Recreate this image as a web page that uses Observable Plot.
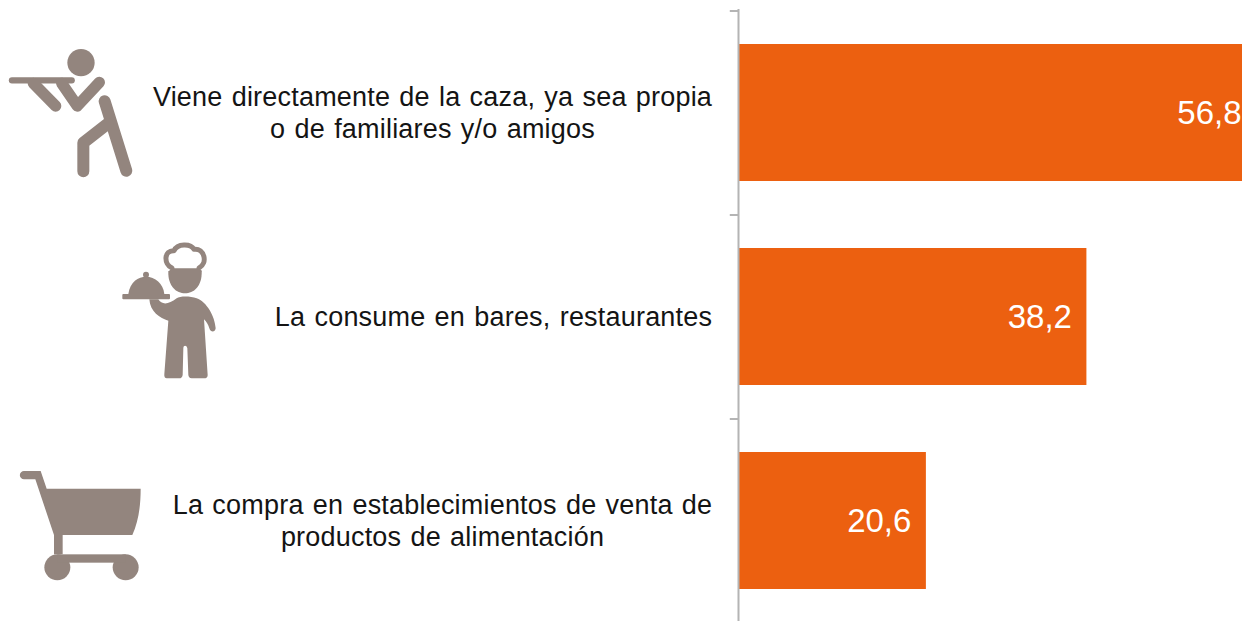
<!DOCTYPE html>
<html><head><meta charset="utf-8">
<script src="https://cdn.jsdelivr.net/npm/d3@7"></script>
<script src="https://cdn.jsdelivr.net/npm/@observablehq/plot@0.6"></script>
<style>html,body{margin:0;padding:0;background:#fff;overflow:hidden}svg{display:block}
.lbl text{letter-spacing:.2px;word-spacing:1.5px}</style>
</head><body><div id="chart"></div>
<script>
const categories = [
  "Viene directamente de la caza, ya sea propia\no de familiares y/o amigos",
  "La consume en bares, restaurantes",
  "La compra en establecimientos de venta de\nproductos de alimentación"
];
const values = [56.8, 38.2, 20.6];
const valueLabels = ["56,8", "38,2", "20,6"];

const BROWN = "#93857e", ORANGE = "#ec6010", AXIS = "#b4b4b4", INK = "#141414";
const rows = categories.map((c, i) => ({c, v: values[i], t: valueLabels[i]}));

const NS = "http://www.w3.org/2000/svg";
function icon(tx, ty, parts) {
  return () => {
    const g = document.createElementNS(NS, "g");
    g.setAttribute("transform", `translate(${tx},${ty}) scale(${1/3})`);
    for (const p of parts) {
      const e = document.createElementNS(NS, p.tag || "path");
      for (const k in p) if (k !== "tag") e.setAttribute(k, p[k]);
      g.appendChild(e);
    }
    return g;
  };
}
const limb = w => ({fill:"none", stroke:BROWN, "stroke-width":w, "stroke-linecap":"round", "stroke-linejoin":"round"});
const hunter = icon(0, 30, [
  {tag:"circle", cx:243, cy:98, r:41, fill:BROWN},
  {d:"M36,151H215", ...limb(19)},
  {d:"M100,160L167,228", ...limb(34)},
  {d:"M185,160L232,228L298,157", ...limb(34)},
  {d:"M314,214L379,422", ...limb(36)},
  {d:"M322,282L250,338V424", ...limb(36)}
]);
const chef = icon(100, 230, [
  {d:"M216,122V114C190,102 192,60 222,62C232,40 272,40 282,58C314,54 324,100 297,114V122Z", fill:"#fff", stroke:BROWN, "stroke-width":15, "stroke-linejoin":"round"},
  {d:"M205,123H305C307,170 280,190 255,190C230,190 203,170 205,123Z", fill:BROWN},
  {d:"M85,192C90,155 115,140 138,140C165,140 190,160 193,192Z", fill:BROWN},
  {tag:"circle", cx:138, cy:134, r:9, fill:BROWN},
  {tag:"rect", x:67, y:192, width:143, height:16, rx:3, fill:BROWN},
  {d:"M148,208H175C185,225 205,225 230,205C240,198 270,198 290,205C320,215 345,260 347,295C345,308 332,308 328,295C325,285 320,275 312,268L323,435C323,445 315,445 310,445H275C268,445 266,440 265,435L262,355C260,345 250,345 250,355L248,435C247,442 243,445 238,445H200C195,445 192,440 193,432L205,272C180,265 150,245 148,208Z", fill:BROWN}
]);
const cart = icon(0, 460, [
  {d:"M72,33H122L140,86H422C422,140 415,185 397,225H188V283H162V225L106,58H72A12.5,12.5 0 0 1 72,33Z", fill:BROWN},
  {tag:"circle", cx:172, cy:322, r:39, fill:BROWN},
  {tag:"circle", cx:377, cy:322, r:39, fill:BROWN},
  {tag:"rect", x:172, y:283, width:205, height:25, fill:BROWN}
]);

const font = {fontFamily:"'Liberation Sans', Arial, sans-serif"};
const labelMark = (i, dx) => Plot.text([rows[i]], {
  x: () => 0, y: "c", text: "c", dx, dy: -1, textAnchor: "middle", lineHeight: 1.185,
  fontSize: 27, fill: INK, className: "lbl", ...font
});

const plot = Plot.plot({
  width: 1242, height: 621,
  marginLeft: 738, marginRight: 0, marginTop: 9, marginBottom: 0,
  style: {background:"#fff", overflow:"hidden"},
  x: {domain: [0, 55.26], axis: null},
  y: {domain: categories, range: [10, 622], paddingInner: 0.33, paddingOuter: 0.165, axis: null},
  marks: [
    Plot.barX(rows, {x: "v", y: "c", fill: ORANGE, clip: true}),
    Plot.ruleX([0], {stroke: AXIS, strokeWidth: 2, strokeOpacity: 1}),
    Plot.ruleY(rows, {y: "c", x1: -0.9, x2: 0, dy: -102, stroke: AXIS, strokeWidth: 2}),
    Plot.text(rows, {x: "v", y: "c", text: "t", dx: -15, textAnchor: "end", fill: "#fff", fontSize: 33, ...font}),
    labelMark(0, -306),
    labelMark(1, -245),
    labelMark(2, -296),
    hunter, chef, cart
  ]
});
document.getElementById("chart").appendChild(plot);
</script></body></html>
